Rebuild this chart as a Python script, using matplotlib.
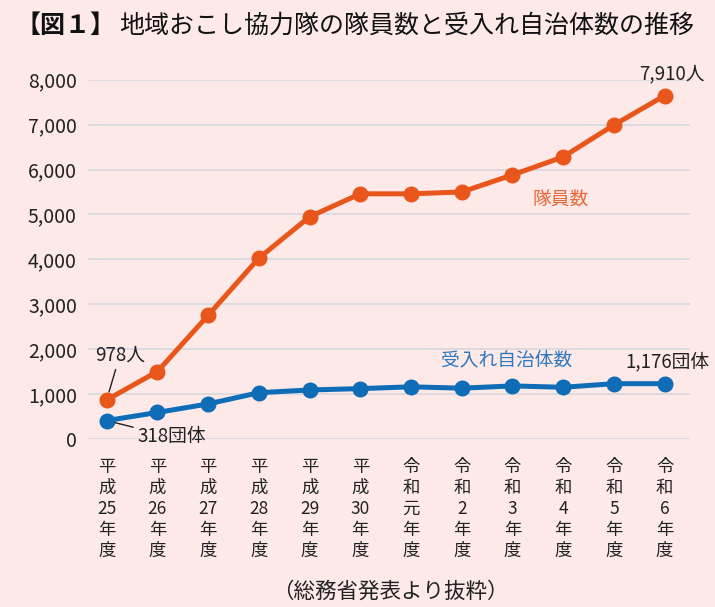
import matplotlib.pyplot as plt

plt.rcParams['font.family'] = ['Noto Sans CJK JP', 'DejaVu Sans']

# 年度 (x-axis categories)
years = [
    "平\n成\n25\n年\n度", "平\n成\n26\n年\n度", "平\n成\n27\n年\n度",
    "平\n成\n28\n年\n度", "平\n成\n29\n年\n度", "平\n成\n30\n年\n度",
    "令\n和\n元\n年\n度", "令\n和\n2\n年\n度", "令\n和\n3\n年\n度",
    "令\n和\n4\n年\n度", "令\n和\n5\n年\n度", "令\n和\n6\n年\n度",
]

# values as drawn in the reference
members = [880, 1510, 2760, 4030, 4950, 5460, 5460, 5500, 5880, 6280, 6990, 7640]
municipalities = [420, 600, 790, 1040, 1100, 1130, 1170, 1140, 1190, 1160, 1240, 1240]

yticks = [0, 1000, 2000, 3000, 4000, 5000, 6000, 7000, 8000]

bg = '#fce9e8'
orange = '#e9561b'
blue = '#0f6cb6'

fig = plt.figure(figsize=(7.15, 6.07), dpi=100, facecolor=bg)
ax = fig.add_axes([0.123, 0.276, 0.842, 0.593], facecolor=bg)

x = list(range(len(years)))
ax.plot(x, members, color=orange, lw=3.6, marker='o', markersize=10.5, clip_on=False, zorder=3)
ax.plot(x, municipalities, color=blue, lw=3.6, marker='o', markersize=10.5, clip_on=False, zorder=3)

ax.set_xlim(-0.37, 11.5)
ax.set_ylim(0, 8000)
ax.set_yticks(yticks)
ax.set_yticklabels([f"{v:,}" for v in yticks], fontsize=14, color='#222222')
ax.set_xticks(x)
ax.set_xticklabels(years, fontsize=12.5, linespacing=1.22, va='top', color='#222222')
ax.tick_params(axis='both', length=0)
ax.tick_params(axis='y', pad=8)
ax.tick_params(axis='x', pad=13)
ax.grid(axis='y', color='#d6d8dc', lw=1.2)
ax.set_axisbelow(True)
for s in ax.spines.values():
    s.set_visible(False)

# annotations
ax.annotate(f"{978}人", xy=(0, members[0]), xytext=(0.26, 1880), fontsize=13.5,
            ha='center', va='center', color='#222222', annotation_clip=False,
            arrowprops=dict(arrowstyle='-', color='#222222', lw=1, shrinkA=1, shrinkB=6))
ax.annotate(f"{318}団体", xy=(0, municipalities[0]), xytext=(1.28, 58), fontsize=13.5,
            ha='center', va='center', color='#222222', annotation_clip=False,
            arrowprops=dict(arrowstyle='-', color='#222222', lw=1, shrinkA=1, shrinkB=6))
ax.text(11.14, 8130, "7,910人", fontsize=13.5, ha='center', va='center', color='#222222', clip_on=False)
ax.text(11.06, 1722, "1,176団体", fontsize=13.5, ha='center', va='center', color='#222222', clip_on=False)
ax.text(7.88, 1767, "受入れ自治体数", fontsize=13.5, ha='center', va='center', color='#2f78c0')
ax.text(8.95, 5322, "隊員数", fontsize=13.5, ha='center', va='center', color='#ea6636')

# title
t1 = fig.text(15 / 715, 1 - 26 / 607, "【図１】", fontsize=18, fontweight='bold',
              ha='left', va='center', color='#111111')
fig.add_artist(plt.Annotation("地域おこし協力隊の隊員数と受入れ自治体数の推移", xy=(1, 0.5),
                              xycoords=t1, xytext=(3, 0), textcoords='offset points',
                              fontsize=18, ha='left', va='center', color='#111111'))

fig.text(390 / 715, 1 - 592 / 607, "（総務省発表より抜粋）", fontsize=15.5,
         ha='center', va='center', color='#222222')

fig.savefig("out.png", dpi=100, facecolor=bg)
